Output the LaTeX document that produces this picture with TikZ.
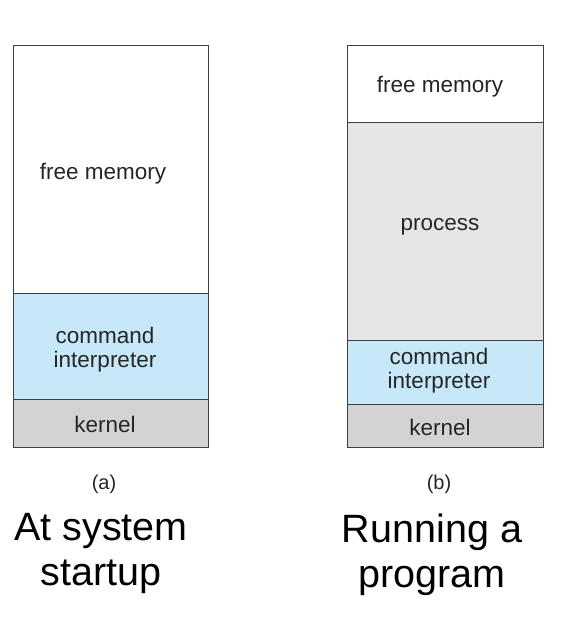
\documentclass[tikz,border=0pt]{standalone}
\usepackage{fontspec}
\setmainfont{Liberation Sans}
\definecolor{cmdblue}{RGB}{198,232,248}
\definecolor{kgray}{RGB}{211,211,213}
\definecolor{pgray}{RGB}{228,229,231}
\definecolor{edge}{RGB}{64,64,64}
\begin{document}
\begin{tikzpicture}[x=1pt,y=-1pt,
  seg/.style={draw=edge,line width=1pt},
  lbl/.style={font=\fontsize{22.5}{24}\selectfont,text=black!85,align=center,inner sep=0pt},
  sublbl/.style={font=\fontsize{20}{22}\selectfont,text=black!85,inner sep=0pt},
  big/.style={font=\fontsize{39.5}{45}\selectfont,align=center,inner sep=0pt}]
\useasboundingbox[fill=white] (0,0) rectangle (574,631);
% (a)
\path[seg,fill=white] (13,46) rectangle (208,293);
\path[seg,fill=cmdblue] (13,293) rectangle (208,399);
\path[seg,fill=kgray] (13,399) rectangle (208,447);
\node[lbl] (afree) at (103,174) {free memory};
\node[lbl] (acmd) at (105,350) {command\\interpreter};
\node[lbl] (aker) at (105,424) {kernel};
\node[sublbl] (alab) at (104,484) {(a)};
\node[big] (atitle) at (101,554) {At system\\startup};
% (b)
\path[seg,fill=white] (347,46) rectangle (543,123);
\path[seg,fill=pgray] (347,123) rectangle (543,340);
\path[seg,fill=cmdblue] (347,340) rectangle (543,404);
\path[seg,fill=kgray] (347,404) rectangle (543,447);
\node[lbl] (bfree) at (440,87) {free memory};
\node[lbl] (bproc) at (440,227) {process};
\node[lbl] (bcmd) at (439,371) {command\\interpreter};
\node[lbl] (bker) at (440,427) {kernel};
\node[sublbl] (blab) at (439,484) {(b)};
\node[big] (btitle) at (432,555) {Running a\\program};
\end{tikzpicture}
\end{document}
